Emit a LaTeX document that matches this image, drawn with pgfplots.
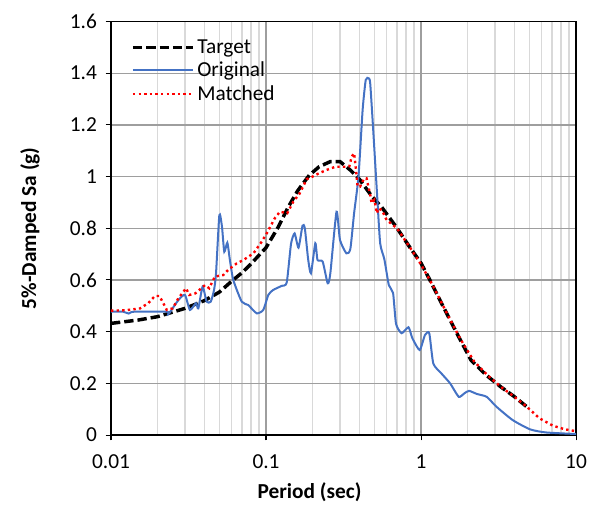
\documentclass[border=0pt]{standalone}
\usepackage{pgfplots}
\pgfplotsset{compat=1.18}
\usepackage{fontspec}
\setmainfont{Carlito}

\definecolor{origblue}{HTML}{4472C4}

\begin{document}
\begin{tikzpicture}
\begin{axis}[
  scale only axis,
  width=348.6pt, height=310pt,
  xmode=log,
  xmin=0.01, xmax=10,
  ymin=0, ymax=1.6,
  xtick={0.01,0.1,1,10},
  xticklabels={0.01,0.1,1,10},
  minor xtick={0.02,0.03,0.04,0.05,0.06,0.07,0.08,0.09,
               0.2,0.3,0.4,0.5,0.6,0.7,0.8,0.9,
               2,3,4,5,6,7,8,9},
  ytick={0,0.2,0.4,0.6,0.8,1,1.2,1.4,1.6},
  yticklabels={0,0.2,0.4,0.6,0.8,1,1.2,1.4,1.6},
  tick align=outside,
  major tick length=4pt,
  minor tick length=0pt,
  tick style={black, line width=0.8pt},
  xtick pos=bottom, ytick pos=left,
  axis line style={black, line width=1.4pt},
  xmajorgrids, xminorgrids, ymajorgrids,
  major grid style={black!38, line width=1pt},
  minor grid style={black!15, line width=1pt},
  tick label style={font=\fontsize{16}{19}\selectfont},
  xticklabel style={yshift=-7pt},
  yticklabel style={xshift=-3pt},
  label style={font=\fontsize{16}{19}\selectfont\bfseries},
  xlabel={Period (sec)},
  ylabel={5\%-Damped Sa (g)},
  x label style={at={(axis description cs:0.427,-0.139)}, anchor=center},
  y label style={at={(axis description cs:-0.174,0.5)}, anchor=center},
  legend style={at={(axis description cs:0.04,0.965)}, anchor=north west,
    draw=none, fill=none, font=\fontsize{16}{19}\selectfont,
    row sep=2pt, inner sep=1pt,
    nodes={inner xsep=2pt, inner ysep=1.5pt}},
  legend cell align=left,
  legend image code/.code={\draw[#1] (0pt,0pt) -- (45pt,0pt);},
]

\addplot[black, line width=2.6pt, dash pattern=on 7pt off 3pt] coordinates {
(0.01,0.432) (0.015,0.445) (0.02,0.458) (0.03,0.49) (0.04,0.52)
(0.05,0.553) (0.06,0.595) (0.07,0.628) (0.08,0.662) (0.1,0.725)
(0.12,0.805) (0.14,0.885) (0.16,0.945) (0.19,1.005) (0.22,1.038)
(0.26,1.058) (0.30,1.058) (0.35,1.025) (0.40,0.99) (0.48,0.925)
(0.56,0.88) (0.69,0.806) (0.85,0.725) (1.0,0.665) (1.14,0.60)
(1.39,0.497) (1.75,0.38) (2.1,0.29) (2.63,0.232) (3.26,0.187)
(3.95,0.151) (4.8,0.11) (5.0,0.103)
};
\addlegendentry{Target}

\addplot[origblue, line width=1.5pt, smooth, tension=0.35] coordinates {
(0.01,0.477) (0.012,0.477) (0.013,0.47) (0.014,0.477) (0.0229,0.477)
(0.0235,0.468) (0.0272,0.522) (0.030,0.542) (0.0323,0.484) (0.0353,0.51)
(0.0366,0.49) (0.039,0.574) (0.0414,0.516) (0.044,0.516) (0.0462,0.561)
(0.0476,0.626) (0.050,0.851) (0.052,0.806) (0.0538,0.709) (0.0563,0.744)
(0.0585,0.677) (0.0615,0.60) (0.0697,0.516) (0.0768,0.503) (0.087,0.471)
(0.096,0.484) (0.1035,0.542) (0.111,0.561) (0.126,0.577) (0.136,0.59)
(0.145,0.74) (0.153,0.78) (0.162,0.725) (0.172,0.81) (0.178,0.80)
(0.187,0.68) (0.195,0.626) (0.208,0.742) (0.215,0.677) (0.232,0.671)
(0.25,0.587) (0.26,0.626) (0.285,0.864) (0.30,0.755) (0.33,0.703)
(0.35,0.72) (0.37,0.858) (0.395,1.0) (0.42,1.258) (0.44,1.374)
(0.46,1.38) (0.47,1.361) (0.49,1.193) (0.52,0.935) (0.545,0.742)
(0.58,0.68) (0.62,0.58) (0.66,0.55) (0.69,0.43) (0.75,0.394)
(0.83,0.417) (0.88,0.374) (0.98,0.329) (1.06,0.387) (1.13,0.394)
(1.2,0.277) (1.35,0.239) (1.54,0.2) (1.75,0.148) (1.9,0.161)
(2.04,0.171) (2.29,0.159) (2.65,0.148) (3.06,0.11) (3.9,0.058)
(5.05,0.022) (6.4,0.01) (10,0.004)
};
\addlegendentry{Original}

\addplot[red, line width=1.8pt, dash pattern=on 1.8pt off 2.4pt] coordinates {
(0.01,0.481) (0.0125,0.483) (0.0154,0.49) (0.0174,0.51) (0.0192,0.538)
(0.0205,0.538) (0.0215,0.516) (0.0229,0.484) (0.025,0.49) (0.0272,0.529)
(0.0305,0.568) (0.032,0.542) (0.035,0.548) (0.0404,0.58) (0.043,0.568)
(0.0468,0.613) (0.053,0.619) (0.057,0.639) (0.0647,0.664) (0.0714,0.677)
(0.083,0.703) (0.0938,0.748) (0.101,0.78) (0.114,0.839) (0.123,0.864)
(0.137,0.858) (0.15,0.903) (0.165,0.935) (0.183,0.99) (0.2,1.0)
(0.22,1.013) (0.247,1.026) (0.28,1.038) (0.33,1.038) (0.345,1.04)
(0.357,1.077) (0.37,1.09) (0.38,1.03) (0.39,0.961) (0.404,0.961)
(0.43,0.993) (0.445,0.993) (0.47,0.93) (0.48,0.897) (0.5,0.91)
(0.52,0.858) (0.53,0.877) (0.56,0.87) (0.6,0.832) (0.7,0.80)
(0.85,0.725) (1.0,0.66) (1.2,0.575) (1.5,0.46) (1.8,0.37)
(2.2,0.285) (2.7,0.23) (3.3,0.185) (4.0,0.148) (4.8,0.11)
(5.8,0.065) (7.1,0.036) (8.5,0.022) (10,0.015)
};
\addlegendentry{Matched}

\end{axis}
\pgfresetboundingbox
\path ([shift={(-83.2pt,-51.7pt)}]current axis.south west)
  rectangle ([shift={(14.2pt,16.1pt)}]current axis.north east);
\end{tikzpicture}
\end{document}
